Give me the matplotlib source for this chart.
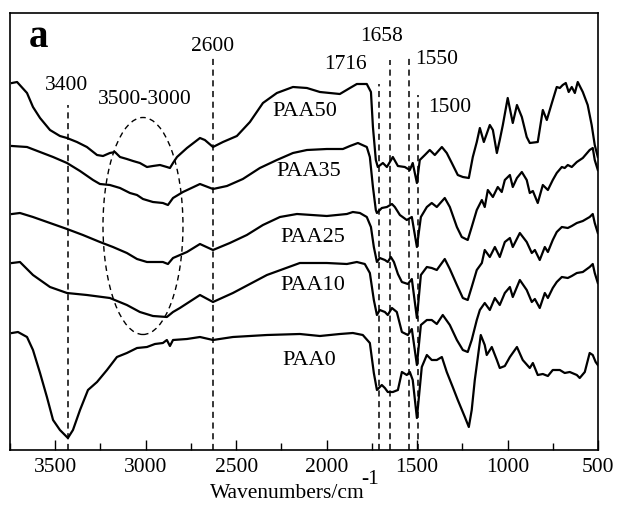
import numpy as np
import matplotlib
matplotlib.use('Agg')
import matplotlib.pyplot as plt
from matplotlib.patches import Ellipse
from matplotlib.ticker import MultipleLocator

plt.rcParams['font.family'] = ['Liberation Serif', 'DejaVu Serif']

# spectra: wavenumber (cm-1) and offset intensity (a.u.)
wn50 = [3739, 3711, 3656, 3623, 3584, 3529, 3474, 3435, 3380, 3325, 3269, 3236, 3198, 3170, 3142, 3104,
        3070, 3032, 2993, 2960, 2921, 2883, 2866, 2849, 2827, 2772, 2700, 2673, 2628, 2573, 2496, 2424,
        2352, 2275, 2186, 2109, 2037, 1927, 1871, 1833, 1778, 1755, 1744, 1728, 1717, 1689, 1667, 1634,
        1606, 1568, 1540, 1524, 1501, 1485, 1457, 1430, 1402, 1363, 1336, 1308, 1275, 1247, 1214, 1192,
        1170, 1153, 1131, 1098, 1081, 1059, 1043, 1026, 999, 971, 948, 921, 894, 877, 833, 805, 783, 755,
        728, 711, 695, 678, 662, 645, 628, 612, 584, 557, 535, 518, 501]
paa50 = [367, 368, 357, 343, 332, 320, 314, 312, 308, 303, 295, 294, 297, 298, 293, 291,
         289, 287, 283, 284, 285, 283, 282, 287, 293, 302, 312, 310, 303, 308, 314, 328,
         347, 357, 363, 362, 358, 356, 362, 366, 366, 358, 323, 290, 283, 287, 283, 293,
         284, 283, 280, 287, 267, 290, 295, 300, 295, 303, 297, 287, 275, 273, 272, 293,
         308, 322, 308, 325, 320, 297, 310, 325, 352, 327, 345, 333, 313, 307, 308, 340, 330, 347,
         363, 362, 365, 367, 358, 363, 357, 368, 358, 345, 325, 305, 293]

wn35 = [3739, 3656, 3584, 3512, 3435, 3363, 3291, 3253, 3198, 3142, 3087, 3048, 3015, 2960, 2905, 2877,
        2849, 2794, 2700, 2628, 2551, 2463, 2369, 2275, 2186, 2109, 1999, 1910, 1871, 1827, 1778, 1761,
        1744, 1728, 1722, 1695, 1667, 1639, 1623, 1595, 1557, 1529, 1501, 1479, 1446, 1419, 1391, 1347,
        1319, 1280, 1253, 1220, 1198, 1170, 1142, 1126, 1109, 1081, 1054, 1032, 1015, 987, 971, 948, 921,
        894, 877, 860, 833, 805, 777, 750, 728, 700, 684, 667, 645, 617, 584, 546, 529, 518, 501]
paa35 = [304, 303, 298, 293, 287, 279, 270, 266, 265, 262, 257, 255, 251, 248, 247, 245,
         252, 258, 266, 261, 264, 271, 282, 290, 297, 300, 301, 301, 304, 307, 303, 293,
         263, 240, 237, 242, 243, 246, 243, 235, 230, 233, 203, 233, 243, 247, 243, 252,
         243, 223, 213, 210, 223, 240, 250, 243, 260, 253, 263, 258, 270, 275, 263, 272, 278,
         270, 257, 259, 247, 265, 260, 270, 277, 283, 282, 285, 283, 288, 292, 300, 302, 290, 280]

wn25 = [3739, 3695, 3623, 3529, 3435, 3347, 3253, 3181, 3104, 3048, 2993, 2938, 2905, 2877, 2849, 2772,
        2700, 2628, 2535, 2441, 2352, 2258, 2164, 1999, 1888, 1855, 1816, 1778, 1755, 1739, 1722, 1706,
        1678, 1662, 1645, 1628, 1606, 1584, 1551, 1529, 1501, 1479, 1446, 1419, 1391, 1347, 1319, 1280,
        1247, 1220, 1198, 1170, 1142, 1126, 1098, 1070, 1043, 1015, 987, 971, 932, 894, 866, 849, 822,
        794, 777, 750, 728, 700, 667, 645, 617, 584, 546, 529, 518, 501]
paa25 = [236, 237, 233, 227, 221, 215, 208, 203, 197, 191, 188, 188, 188, 186, 192, 198,
         206, 200, 207, 215, 225, 233, 236, 234, 236, 238, 237, 233, 223, 203, 188, 192,
         190, 188, 193, 188, 176, 168, 166, 171, 132, 175, 183, 182, 180, 191, 181, 165,
         152, 150, 163, 180, 187, 200, 193, 203, 193, 208, 212, 203, 217, 208, 197, 200, 190,
         203, 198, 210, 218, 223, 222, 224, 227, 229, 233, 236, 227, 217]

wn10 = [3739, 3695, 3623, 3529, 3435, 3325, 3198, 3104, 3032, 2960, 2883, 2849, 2811, 2700, 2628, 2518,
        2330, 2148, 1999, 1888, 1833, 1789, 1761, 1739, 1722, 1706, 1678, 1662, 1639, 1612, 1584, 1551,
        1529, 1501, 1479, 1446, 1419, 1391, 1358, 1319, 1280, 1247, 1220, 1198, 1170, 1153, 1126, 1098,
        1070, 1043, 1015, 987, 971, 932, 894, 866, 849, 822, 794, 777, 750, 728, 700, 667, 645, 617,
        584, 546, 529, 518, 501]
paa10 = [187, 188, 175, 163, 157, 155, 152, 145, 138, 134, 133, 138, 142, 155, 148, 157,
         175, 187, 187, 186, 188, 186, 177, 150, 135, 140, 138, 135, 142, 138, 118, 115,
         121, 85, 125, 130, 130, 126, 135, 125, 110, 100, 98, 110, 130, 140, 147, 140,
         152, 145, 157, 163, 153, 170, 160, 148, 151, 142, 157, 152, 162, 168, 173, 172, 174, 177,
         178, 183, 186, 177, 167]

wn0 = [3739, 3706, 3656, 3623, 3584, 3546, 3512, 3474, 3430, 3402, 3363, 3319, 3269, 3214, 3159, 3104,
       3048, 2993, 2949, 2905, 2883, 2866, 2849, 2772, 2700, 2628, 2518, 2330, 2148, 2037, 1927, 1855,
       1800, 1761, 1739, 1722, 1695, 1678, 1662, 1634, 1606, 1584, 1557, 1540, 1524, 1501, 1474, 1446,
       1419, 1391, 1363, 1336, 1303, 1275, 1236, 1214, 1198, 1181, 1164, 1148, 1126, 1115, 1087, 1059,
       1043, 1015, 987, 948, 916, 877, 860, 833, 805, 777, 750, 711, 684, 656, 617, 601, 573, 546,
       529, 513, 501]
paa0 = [117, 118, 113, 100, 77, 53, 30, 20, 12, 20, 40, 60, 68, 80, 93, 97,
        102, 103, 106, 107, 110, 104, 110, 111, 113, 110, 113, 115, 116, 114, 116, 117,
        115, 107, 77, 60, 65, 62, 58, 58, 60, 78, 75, 78, 70, 32, 83, 95,
        90, 90, 93, 78, 63, 50, 33, 23, 40, 70, 93, 115, 105, 95, 103, 90,
        82, 84, 93, 103, 90, 82, 87, 75, 76, 74, 80, 80, 77, 78, 75, 72, 78, 97,
        95, 88, 85]

# sample names and where they are written (wavenumber, intensity)
names = ['PAA50', 'PAA35', 'PAA25', 'PAA10', 'PAA0']
name_x = [2302, 2275, 2258, 2258, 2242]
name_y = [338, 278, 213, 165, 90]

# marked bands: label, line position, top of dashed line, label position
band_labels = ['3400', '2600', '1716', '1658', '1550', '1500']
band_pos = [3430, 2628, 1712, 1652, 1545, 1497]
band_top = [345, 393, 366, 390, 393, 355]
band_lx = [3435, 2628, 1894, 1695, 1512, 1441]
band_ly = [364, 403, 385, 413, 390, 343]
band_ha = ['center', 'center', 'center', 'center', 'left', 'left']

fig = plt.figure(figsize=(6.18, 5.11), dpi=100)
ax = fig.add_axes([10 / 618, 61 / 511, 588 / 618, 437 / 511])

for w, s in zip([wn50, wn35, wn25, wn10, wn0], [paa50, paa35, paa25, paa10, paa0]):
    ax.plot(w, s, color='black', lw=1.6, solid_joinstyle='round')

for n, x, y in zip(names, name_x, name_y):
    ax.text(x, y, n, fontsize=16, ha='left', va='center')

for lab, p, t, lx, ly, ha in zip(band_labels, band_pos, band_top, band_lx, band_ly, band_ha):
    ax.plot([p, p], [0, t], color='black', lw=1.1, ls=(0, (4, 3)))
    ax.text(lx, ly, lab, fontsize=15.5, ha=ha, va='center')

ax.add_patch(Ellipse((3015, 224), 442, 217, fill=False, ec='black', lw=1.0, ls=(0, (4, 3))))
ax.text(3004, 350, '3500-3000', fontsize=15.5, ha='center', va='center')
ax.text(3590, 412, 'a', fontsize=28, fontweight='bold', ha='center', va='center')

ax.set_xlim(3750, 500)
ax.set_ylim(0, 437)
ax.xaxis.set_major_locator(MultipleLocator(500))
ax.xaxis.set_minor_locator(MultipleLocator(250))
ax.tick_params(axis='x', which='major', direction='in', length=7, width=1, labelsize=15.5, pad=6)
ax.tick_params(axis='x', which='minor', direction='in', length=5, width=1)
ax.set_yticks([])
for sp in ax.spines.values():
    sp.set_linewidth(1.2)

fig.text(287 / 618, 1 - 494 / 511, 'Wavenumbers/cm', fontsize=15.5, ha='center', va='center')
fig.text(370 / 618, 1 - 480 / 511, '-1', fontsize=15.5, ha='center', va='center')

fig.savefig('out.png', dpi=100)
